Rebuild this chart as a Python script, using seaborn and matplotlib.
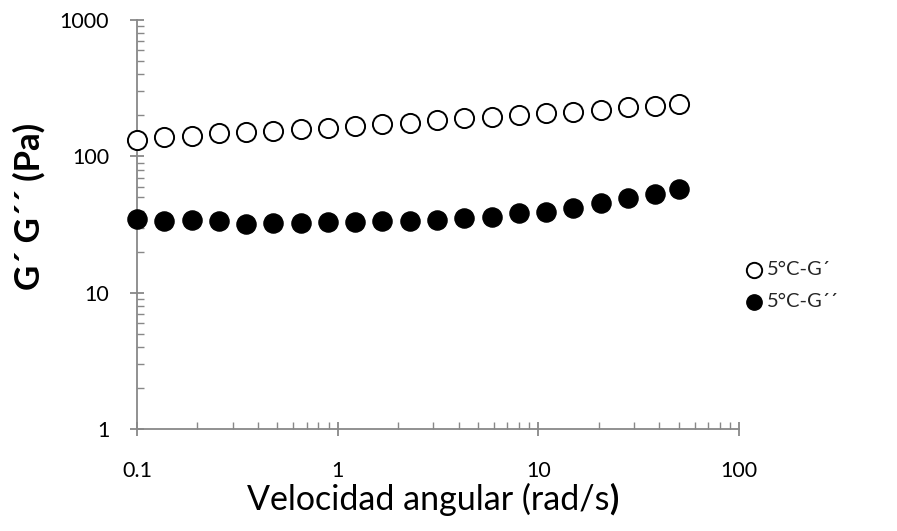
import numpy as np
import pandas as pd
import matplotlib
matplotlib.use("Agg")
import matplotlib.pyplot as plt
import matplotlib.ticker as mticker
import seaborn as sns

# angular frequency (rad/s)
freq = [0.1, 0.137, 0.187, 0.256, 0.35, 0.478, 0.654, 0.894, 1.22, 1.67, 2.29,
        3.13, 4.27, 5.84, 7.99, 10.9, 14.9, 20.4, 27.9, 38.1, 50.0]
# storage modulus G' (Pa)
g_storage = [132, 138, 142, 148, 151, 154, 158, 162, 168, 172, 177,
             184, 190, 196, 201, 207, 213, 219, 229, 234, 242]
# loss modulus G'' (Pa)
g_loss = [34.6, 33.7, 34.1, 33.4, 31.9, 32.3, 32.6, 33.2, 33.2, 33.4, 33.8,
          34.1, 35.1, 36.1, 38.2, 39.3, 41.6, 45.7, 49.3, 52.7, 57.4]

labels = ["5°C-G´", "5°C-G´´"]
x_ticks = [0.1, 1, 10, 100]
x_ticklabels = ["0.1", "1", "10", "100"]
y_ticks = [1, 10, 100, 1000]
y_ticklabels = ["1", "10", "100", "1000"]

AXIS_GREY = "#888888"


def main():
    sns.set_theme(style="white")
    plt.rcParams["font.family"] = ["Lato", "DejaVu Sans"]

    df = pd.DataFrame({"w": freq, "G1": g_storage, "G2": g_loss})

    fig = plt.figure(figsize=(8.97, 5.31), dpi=100)
    ax = fig.add_axes([0.1527, 0.192, 0.6713, 0.770])

    sns.scatterplot(data=df, x="w", y="G1", ax=ax, s=190, marker="o",
                    facecolor="white", edgecolor="black", linewidth=1.4,
                    label=labels[0], zorder=3, clip_on=False)
    sns.scatterplot(data=df, x="w", y="G2", ax=ax, s=190, marker="o",
                    color="black", edgecolor="black", linewidth=1.0,
                    label=labels[1], zorder=3, clip_on=False)

    ax.set_xscale("log")
    ax.set_yscale("log")
    ax.set_xlim(0.1, 100)
    ax.set_ylim(1, 1000)

    ax.xaxis.set_major_locator(mticker.FixedLocator(x_ticks))
    ax.xaxis.set_major_formatter(mticker.FixedFormatter(x_ticklabels))
    ax.yaxis.set_major_locator(mticker.FixedLocator(y_ticks))
    ax.yaxis.set_major_formatter(mticker.FixedFormatter(y_ticklabels))
    ax.xaxis.set_minor_locator(mticker.LogLocator(base=10, subs=np.arange(2, 10)))
    ax.yaxis.set_minor_locator(mticker.LogLocator(base=10, subs=np.arange(2, 10)))
    ax.xaxis.set_minor_formatter(mticker.NullFormatter())
    ax.yaxis.set_minor_formatter(mticker.NullFormatter())

    for side in ["top", "right"]:
        ax.spines[side].set_visible(False)
    for side in ["left", "bottom"]:
        ax.spines[side].set_color(AXIS_GREY)
        ax.spines[side].set_linewidth(1.3)

    ax.tick_params(which="major", direction="inout", length=10, width=1.3,
                   color=AXIS_GREY, labelsize=15.5, labelcolor="black",
                   bottom=True, left=True)
    ax.tick_params(axis="x", which="major", pad=18)
    ax.tick_params(axis="y", which="major", pad=15)
    ax.tick_params(which="minor", direction="in", length=5, width=1.0,
                   color=AXIS_GREY, bottom=True, left=True)

    ax.set_xlabel("")
    ax.set_ylabel("G´ G´´ (Pa)", fontsize=25, fontweight="bold", color="black")
    ax.yaxis.set_label_coords(-0.152, 0.545)

    xl = fig.text(0.477, 0.04, "Velocidad angular (rad/s", fontsize=24.5,
                  ha="center", va="baseline", color="black")
    ax.annotate(")", xy=(1, 0), xycoords=xl, va="bottom", ha="left",
                fontsize=24.5, fontweight="bold", color="black")

    ax.legend(loc="center left", bbox_to_anchor=(0.811, 0.462),
              bbox_transform=fig.transFigure, frameon=False, fontsize=14.5,
              handlelength=0.8, handletextpad=0.25, labelspacing=0.75,
              markerscale=0.8)

    fig.savefig("out.png", dpi=100)


if __name__ == "__main__":
    main()
